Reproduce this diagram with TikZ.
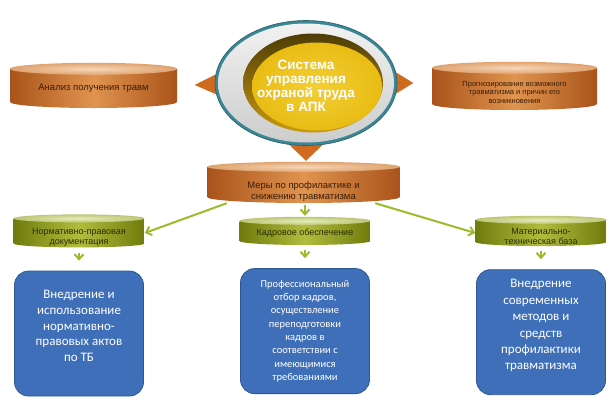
\documentclass[tikz,border=0pt]{standalone}
\usepackage{fontspec}
\setmainfont{Liberation Sans}
\newfontfamily\boxfont{Carlito}
\usepackage{tikz}
\usetikzlibrary{shapes.geometric, arrows.meta, positioning, calc, backgrounds}
\definecolor{brownedge}{HTML}{A9531A}
\definecolor{brownmid}{HTML}{E0944F}
\definecolor{browntext}{HTML}{3A1E08}
\definecolor{capbrownin}{HTML}{F6D7B8}
\definecolor{capbrownout}{HTML}{DFA370}
\definecolor{greenedge}{HTML}{6F7B0C}
\definecolor{greenmid}{HTML}{B0BD3E}
\definecolor{greentext}{HTML}{2A2D04}
\definecolor{capgreenin}{HTML}{E6ECBB}
\definecolor{capgreenout}{HTML}{BCC676}
\definecolor{arrowgreen}{HTML}{9CBD2B}
\definecolor{orangetri}{HTML}{CF6A1F}
\definecolor{ringteal}{HTML}{3B8796}
\definecolor{olivedark}{HTML}{4E3C06}
\definecolor{goldedge}{HTML}{C89A10}
\definecolor{goldmain}{HTML}{E9BC14}
\definecolor{goldlight}{HTML}{F2CF36}
\definecolor{boxblue}{HTML}{3E6FB8}
\definecolor{boxedge}{HTML}{2E5894}
\tikzset{
  disc/.style n args={3}{
    rectangle, inner sep=1pt, align=center,
    path picture={
      \shade[left color=#1, right color=#1, middle color=#2]
        let \p1=(path picture bounding box.south west),
            \p2=(path picture bounding box.north east) in
        (\x1,\y2) -- (\x1,\y1+#3)
        arc[start angle=180, end angle=360, x radius={(\x2-\x1)/2}, y radius=#3]
        -- (\x2,\y2) -- cycle;
    },
  },
  browndisc/.style={
    disc={brownedge}{brownmid}{6pt},
    text=browntext, font=\fontsize{9.5}{10.5}\selectfont,
  },
  greendisc/.style={
    disc={greenedge}{greenmid}{4pt},
    minimum width=131pt, minimum height=24pt,
    text=greentext, font=\fontsize{9}{10}\selectfont,
  },
  capbrown/.style={inner color=capbrownin, outer color=capbrownout},
  capgreen/.style={inner color=capgreenin, outer color=capgreenout},
  textdown/.style={execute at begin node={\rule{0pt}{#1}}},
  textup/.style={execute at end node={\rule[-#1]{0pt}{0pt}}},
  sysring/.style={
    ellipse, minimum width=182pt, minimum height=125pt, inner sep=0pt,
    fill=ringteal, draw=ringteal!70!black, line width=0.6pt,
    text=white, align=center, font=\bfseries\fontsize{13.5}{14}\selectfont,
    path picture={
      \shade[top color=gray!10, bottom color=gray!40]
        (path picture bounding box.center) ellipse [x radius=88pt, y radius=59.5pt];
      \shade[top color=olivedark, bottom color=goldedge]
        ([xshift=7pt]path picture bounding box.center) ellipse [x radius=70pt, y radius=49.5pt];
      \shade[inner color=goldlight, outer color=goldmain]
        ([xshift=11pt,yshift=-3.5pt]path picture bounding box.center) ellipse [x radius=65pt, y radius=44pt];
    },
  },
  bluebox/.style={
    rectangle, rounded corners=14pt,
    minimum width=129pt, minimum height=125pt,
    fill=boxblue, draw=boxedge, line width=0.8pt,
    text=white, align=center, font=\boxfont\fontsize{13}{15.7}\selectfont,
  },
  arrow/.style={-{Straight Barb[length=5pt,width=9pt]}, line width=2pt, color=arrowgreen},
  tri/.style={fill=orangetri},
}
\begin{document}
\begin{tikzpicture}[x=1pt, y=-1pt]
  \useasboundingbox (0,0) rectangle (613,405);

  \node[sysring, textdown=57pt] (sys) at (306,83) {Система\\управления\\охраной труда\\в АПК};

  \node[browndisc, minimum width=167pt, minimum height=39pt] (analiz) at (93.5,88.5) {Анализ  получения  травм};
  \node[browndisc, minimum width=165pt, minimum height=42pt, textdown=29pt,
        font=\fontsize{7.5}{8.6}\selectfont] (prognoz) at (514.5,89)
       {Прогнозирование  возможного\\травматизма  и  причин  его\\возникновения};
  \node[browndisc, minimum width=193pt, minimum height=36pt, textdown=30pt] (mery) at (303.5,185)
       {Меры по профилактике  и\\снижению  травматизма};

  \node[greendisc, textdown=25pt] (normdoc) at (79,233) {Нормативно-правовая\\документация};
  \node[greendisc] (kadry) at (305,233) {Кадровое обеспечение};
  \node[greendisc, textdown=24pt] (mtb) at (541,233) {Материально-\\техническая база};

  \node[bluebox, below=23pt of normdoc, textup=15pt] (b1)
       {Внедрение и\\использование\\нормативно-\\правовых  актов\\по ТБ};
  \node[bluebox, below=23pt of kadry, font=\boxfont\fontsize{10.5}{13.3}\selectfont] (b2)
       {Профессиональный\\отбор кадров,\\осуществление\\переподготовки\\кадров в\\соответствии с\\имеющимися\\требованиями};
  \node[bluebox, below=23pt of mtb, textup=15pt, font=\boxfont\fontsize{13}{16.4}\selectfont] (b3)
       {Внедрение\\современных\\методов и\\средств\\профилактики\\травматизма};

  \begin{scope}[on background layer]
    \fill[white] (0,0) rectangle (613,405);
    \fill[tri] ([xshift=-20pt,yshift=-2pt]sys.west) -- ([xshift=10pt,yshift=13pt]sys.west)
      -- ([xshift=10pt,yshift=-15pt]sys.west) -- cycle;
    \fill[tri] ([xshift=16pt]sys.east) -- ([xshift=-10pt,yshift=16pt]sys.east)
      -- ([xshift=-10pt,yshift=-16pt]sys.east) -- cycle;
    \fill[tri] ([yshift=-15pt]sys.south) -- ([xshift=-24pt,yshift=8pt]sys.south)
      -- ([xshift=24pt,yshift=8pt]sys.south) -- cycle;
  \end{scope}

  \foreach \cyl/\r/\c in {analiz/6pt/capbrown, prognoz/6pt/capbrown, mery/5pt/capbrown,
                          normdoc/4pt/capgreen, kadry/4pt/capgreen, mtb/4pt/capgreen}
    \shade[\c] let \p1=(\cyl.north west), \p2=(\cyl.north east) in
      (\cyl.north) ellipse [x radius={(\x2-\x1)/2}, y radius=\r];

  \draw[arrow] ([xshift=20pt]mery.south west) -- (normdoc.east);
  \draw[arrow, shorten <=2pt, shorten >=5pt] (kadry.north |- mery.south) -- (kadry.north);
  \draw[arrow] ([xshift=-25pt]mery.south east) -- (mtb.west);
  \draw[arrow, shorten <=5pt, shorten >=10pt] (normdoc) -- (b1);
  \draw[arrow, shorten <=5pt, shorten >=10pt] (kadry) -- (b2);
  \draw[arrow, shorten <=5pt, shorten >=10pt] (mtb) -- (b3);

\end{tikzpicture}
\end{document}
